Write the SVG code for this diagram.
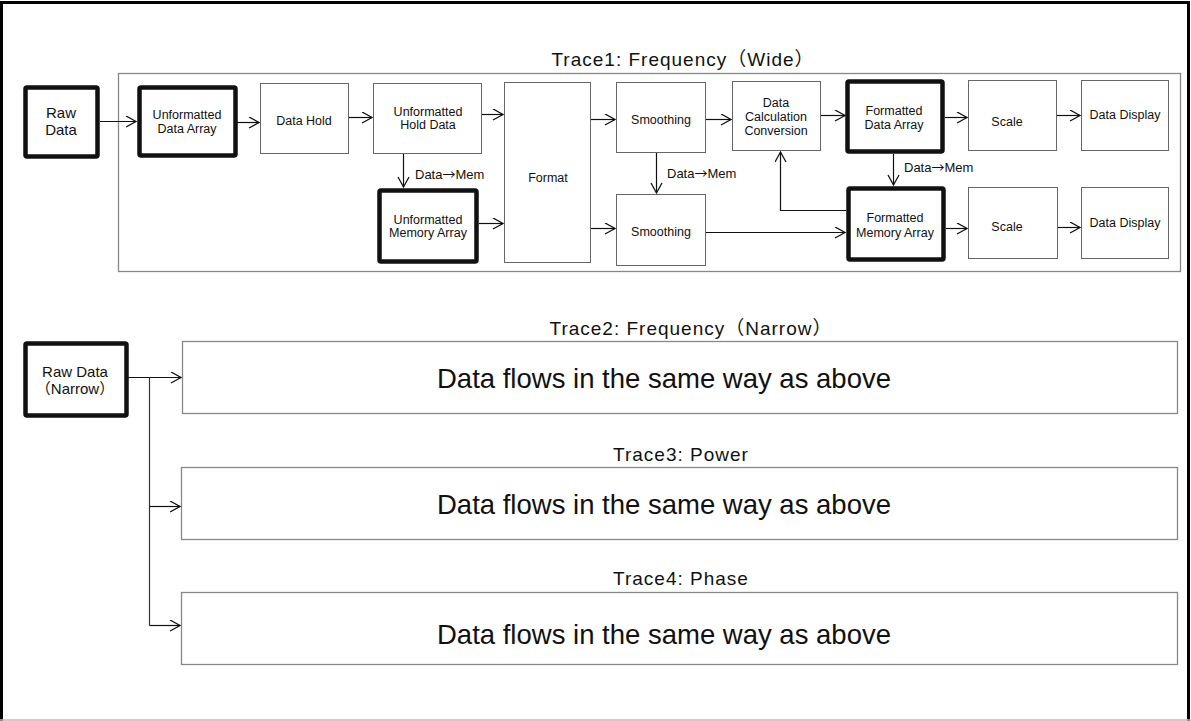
<svg xmlns="http://www.w3.org/2000/svg" width="1191" height="721" viewBox="0 0 1191 721">
<defs>
<marker id="ah" markerUnits="userSpaceOnUse" markerWidth="14" markerHeight="14" refX="11" refY="6" orient="auto">
<path d="M1,0.5 L11,6 L1,11.5" fill="none" stroke="#111" stroke-width="1.3"/>
</marker>
</defs>
<style>
text{font-family:"Liberation Sans","Noto Sans CJK JP",Arial,sans-serif;fill:#111;text-anchor:middle}
.n{font-size:12.5px}
.r{font-size:15px}
.lbl{font-size:13px;text-anchor:start}
.arr{font-family:"Noto Sans CJK JP",sans-serif}
.title{font-size:19px;letter-spacing:1px}
.big{font-size:27.5px}
.thin{fill:#fff;stroke:#666;stroke-width:1}
.thick{fill:#fff;stroke:#111;stroke-width:4.5}
.cont{fill:none;stroke:#888;stroke-width:1.3}
.c{fill:none;stroke:#111;stroke-width:1.2;marker-end:url(#ah)}
.cl{fill:none;stroke:#333;stroke-width:1.2}
</style>
<rect width="1191" height="721" fill="#fff"/>
<path d="M1.5,721 V2.5 H1188.5 V721" fill="none" stroke="#000" stroke-width="3"/>
<line x1="0" y1="720" x2="1191" y2="720" stroke="#bbb" stroke-width="1.5"/>

<g id="trace1">
<rect class="cont" x="118.5" y="73.5" width="1062" height="198"/>
<text class="title" x="683" y="66">Trace1: Frequency（Wide）</text>
</g>

<g id="raw-data">
<rect class="thick" x="25.5" y="87.5" width="72" height="69" rx="1.5"/>
<text class="r" x="61" y="118">Raw</text>
<text class="r" x="61" y="135">Data</text>
</g>
<g id="unformatted-data-array">
<rect class="thick" x="139.5" y="87.5" width="96" height="68" rx="1.5"/>
<text class="n" x="187" y="119">Unformatted</text>
<text class="n" x="187" y="133">Data Array</text>
</g>
<g id="data-hold">
<rect class="thin" x="260.5" y="83.5" width="88" height="70"/>
<text class="n" x="304" y="125">Data Hold</text>
</g>
<g id="unformatted-hold-data">
<rect class="thin" x="373.5" y="83.5" width="108" height="70"/>
<text class="n" x="428" y="116">Unformatted</text>
<text class="n" x="428" y="129">Hold Data</text>
</g>
<g id="unformatted-memory-array">
<rect class="thick" x="379.5" y="190.5" width="97" height="71" rx="1.5"/>
<text class="n" x="428" y="224">Unformatted</text>
<text class="n" x="428" y="237">Memory Array</text>
</g>
<g id="format">
<rect class="thin" x="504.5" y="82.5" width="86" height="180"/>
<text class="n" x="548" y="182">Format</text>
</g>
<g id="smoothing1">
<rect class="thin" x="616.5" y="82.5" width="89" height="70"/>
<text class="n" x="661" y="124">Smoothing</text>
</g>
<g id="smoothing2">
<rect class="thin" x="616.5" y="194.5" width="89" height="71"/>
<text class="n" x="661" y="236">Smoothing</text>
</g>
<g id="data-calc">
<rect class="thin" x="732.5" y="81.5" width="88" height="69"/>
<text class="n" x="776" y="107">Data</text>
<text class="n" x="776" y="121">Calculation</text>
<text class="n" x="776" y="135">Conversion</text>
</g>
<g id="formatted-data-array">
<rect class="thick" x="847.5" y="81.5" width="95" height="70" rx="1.5"/>
<text class="n" x="894" y="115">Formatted</text>
<text class="n" x="894" y="129">Data Array</text>
</g>
<g id="formatted-memory-array">
<rect class="thick" x="848.5" y="188.5" width="95" height="71" rx="1.5"/>
<text class="n" x="895" y="222">Formatted</text>
<text class="n" x="895" y="237">Memory Array</text>
</g>
<g id="scale1">
<rect class="thin" x="968.5" y="80.5" width="88" height="70"/>
<text class="n" x="1007" y="126">Scale</text>
</g>
<g id="data-display1">
<rect class="thin" x="1081.5" y="80.5" width="87" height="70"/>
<text class="n" x="1125" y="119">Data Display</text>
</g>
<g id="scale2">
<rect class="thin" x="968.5" y="187.5" width="89" height="71"/>
<text class="n" x="1007" y="231">Scale</text>
</g>
<g id="data-display2">
<rect class="thin" x="1081.5" y="187.5" width="87" height="71"/>
<text class="n" x="1125" y="227">Data Display</text>
</g>

<g id="raw-data-narrow">
<rect class="thick" x="25.5" y="343.5" width="101" height="72" rx="1.5"/>
<text class="r" x="75" y="377">Raw Data</text>
<text class="r" x="75" y="394">（Narrow）</text>
</g>
<g id="trace2">
<rect class="cont" x="182.5" y="341.5" width="995" height="72"/>
<text class="title" x="691" y="335">Trace2: Frequency（Narrow）</text>
<text class="big" x="664" y="388">Data flows in the same way as above</text>
</g>
<g id="trace3">
<rect class="cont" x="181.5" y="467.5" width="996" height="72"/>
<text class="title" x="681" y="461">Trace3: Power</text>
<text class="big" x="664" y="514">Data flows in the same way as above</text>
</g>
<g id="trace4">
<rect class="cont" x="181.5" y="592.5" width="996" height="72"/>
<text class="title" x="681" y="585">Trace4: Phase</text>
<text class="big" x="664" y="644">Data flows in the same way as above</text>
</g>

<g id="connectors">
<line class="c" x1="100" y1="121.5" x2="136" y2="121.5"/>
<line class="c" x1="237" y1="122.5" x2="259" y2="122.5"/>
<line class="c" x1="349" y1="117.5" x2="372" y2="117.5"/>
<line class="c" x1="482" y1="114.5" x2="503" y2="114.5"/>
<line class="c" x1="403.5" y1="154" x2="403.5" y2="187"/>
<text class="lbl" x="415" y="179">Data<tspan class="arr">→</tspan>Mem</text>
<line class="c" x1="479" y1="223.5" x2="503" y2="223.5"/>
<line class="c" x1="591" y1="119.5" x2="615" y2="119.5"/>
<line class="c" x1="591" y1="228.5" x2="615" y2="228.5"/>
<line class="c" x1="656.5" y1="153" x2="656.5" y2="193"/>
<text class="lbl" x="667" y="178">Data<tspan class="arr">→</tspan>Mem</text>
<line class="c" x1="706" y1="119.5" x2="731" y2="119.5"/>
<line class="c" x1="706" y1="232.5" x2="845" y2="232.5"/>
<polyline class="c" points="846,210.5 780.5,210.5 780.5,152"/>
<line class="c" x1="821" y1="115.5" x2="845" y2="115.5"/>
<line class="c" x1="893.5" y1="154" x2="893.5" y2="185"/>
<text class="lbl" x="904" y="172">Data<tspan class="arr">→</tspan>Mem</text>
<line class="c" x1="945" y1="117.5" x2="967" y2="117.5"/>
<line class="c" x1="1057" y1="115.5" x2="1080" y2="115.5"/>
<line class="c" x1="946" y1="228.5" x2="967" y2="228.5"/>
<line class="c" x1="1058" y1="227.5" x2="1080" y2="227.5"/>
<line class="c" x1="128" y1="377.5" x2="181" y2="377.5"/>
<polyline class="cl" points="149.5,377.5 149.5,625.5"/>
<line class="c" x1="149.5" y1="506.5" x2="180" y2="506.5"/>
<line class="c" x1="149.5" y1="625.5" x2="180" y2="625.5"/>
</g>
</svg>
